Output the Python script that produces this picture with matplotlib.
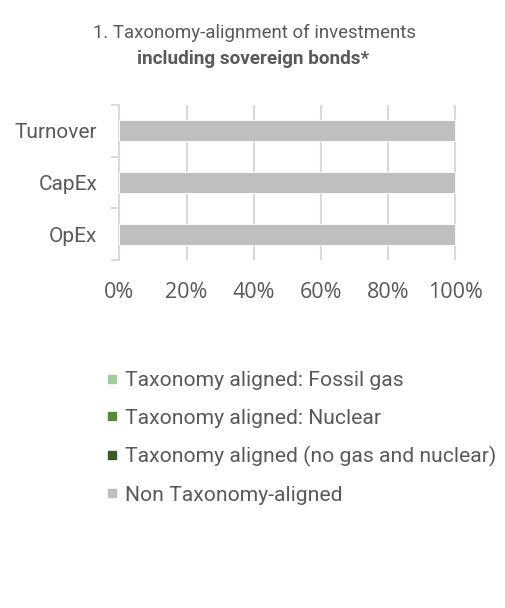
import matplotlib.pyplot as plt
from matplotlib.lines import Line2D

categories = ['Turnover', 'CapEx', 'OpEx']
fossil_gas = [0, 0, 0]
nuclear = [0, 0, 0]
aligned_other = [0, 0, 0]
non_aligned = [100, 100, 100]

series = [
    ('Taxonomy aligned: Fossil gas', fossil_gas, '#a2cca0'),
    ('Taxonomy aligned: Nuclear', nuclear, '#548c34'),
    ('Taxonomy aligned (no gas and nuclear)', aligned_other, '#365a22'),
    ('Non Taxonomy-aligned', non_aligned, '#bfbfbf'),
]
xticks = [0, 20, 40, 60, 80, 100]

txt = '#595959'
fig = plt.figure(figsize=(5.05, 6.08), dpi=100)
ax = fig.add_axes([0.2366, 0.5724, 0.6677, 0.2549])

ypos = list(range(len(categories)))[::-1]
left = [0] * len(categories)
for name, vals, col in series:
    ax.barh(ypos, vals, left=left, height=0.41, color=col, zorder=3,
            edgecolor='white', linewidth=0.6)
    left = [l + v for l, v in zip(left, vals)]

for s in ['top', 'right', 'bottom']:
    ax.spines[s].set_visible(False)
ax.spines['left'].set_color('#d9d9d9')
ax.spines['left'].set_linewidth(1.4)

ax.set_xlim(0, 100.5)
ax.set_ylim(-0.5, 2.5)
ax.set_xticks(xticks)
ax.set_xticklabels([f'{t}%' for t in xticks], family='Open Sans', fontsize=15.5, color=txt)
ax.tick_params(axis='x', length=0, pad=16)
ax.set_yticks(ypos)
ax.set_yticklabels(categories, family='Roboto', fontsize=15, color=txt)
ax.tick_params(axis='y', which='major', length=0, pad=16)
ax.set_yticks([-0.5, 0.5, 1.5, 2.5], minor=True)
ax.tick_params(axis='y', which='minor', length=6, color='#d9d9d9', width=1.4)
ax.grid(axis='x', color='#d9d9d9', linewidth=1.5, zorder=0)

fig.text(0.504, 0.9457, '1. Taxonomy-alignment of investments', ha='center', va='center',
         family='Roboto', fontsize=13.4, color=txt)
fig.text(0.502, 0.903, 'including sovereign bonds*', ha='center', va='center',
         family='Roboto', fontsize=13.6, fontweight='bold', color=txt)

handles = [Line2D([], [], marker='s', linestyle='none', markersize=6, color=c,
                  label=n) for n, _, c in series]
fig.legend(handles=handles, loc='upper left', bbox_to_anchor=(0.184, 0.403),
           frameon=False, prop={'family': 'Roboto', 'size': 15.2}, labelcolor=txt,
           handletextpad=0.1, labelspacing=0.87, handlelength=1.0, borderaxespad=0)

fig.savefig('out.png', dpi=100)
